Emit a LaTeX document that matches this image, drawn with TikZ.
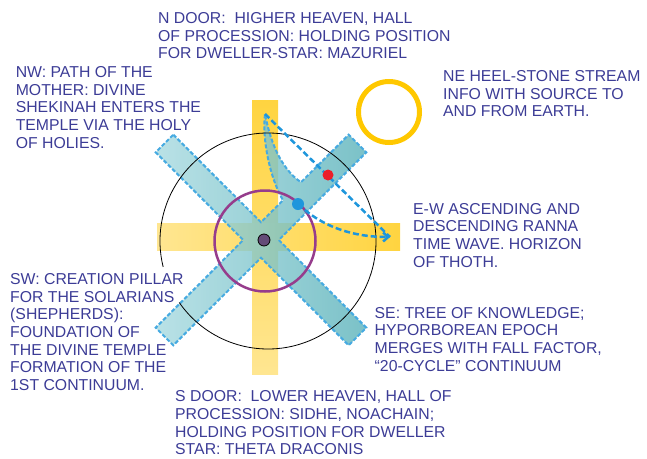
\documentclass[tikz,border=0pt]{standalone}
\usepackage{fontspec}
\setmainfont{Liberation Sans}
\usetikzlibrary{arrows.meta}
\definecolor{textblue}{RGB}{60,60,150}
\definecolor{sunyellow}{RGB}{255,212,64}
\definecolor{paleyellow}{RGB}{255,230,145}
\definecolor{tealL}{RGB}{168,218,224}
\definecolor{tealR}{RGB}{90,178,186}
\definecolor{edgeblue}{RGB}{70,170,225}
\definecolor{flowblue}{RGB}{30,150,220}
\definecolor{dotred}{RGB}{235,30,40}
\definecolor{ringpurple}{RGB}{150,60,140}
\definecolor{corepurple}{RGB}{100,75,120}
\definecolor{ringgold}{RGB}{255,200,0}
\tikzset{
  txt/.style={anchor=base west, align=left, inner sep=0pt, text=textblue,
    font=\fontsize{15.8}{17.7}\selectfont},
  xbar/.style={draw=edgeblue, line width=2pt, dash pattern=on 4pt off 2pt,
    left color=tealL, right color=tealR, fill opacity=0.8},
  flow/.style={draw=flowblue, line width=2.5pt, dash pattern=on 6pt off 3pt},
  spot/.style={circle, inner sep=0pt, minimum size=12pt}
}
\begin{document}
\frenchspacing
\begin{tikzpicture}[x=1pt, y=-1pt]
  \useasboundingbox (0,0) rectangle (647,458);
  % cross of the doors
  \shade[top color=sunyellow, bottom color=paleyellow] (252,100) rectangle (278,374);
  \shade[left color=paleyellow, right color=sunyellow] (157,223) rectangle (400,250);
  % the X, with the horn up to the NE stream
  \coordinate (horn) at (265,114);
  \draw[xbar] (173.3,134.7) -- (261,222.3) -- (283,200.3)
      .. controls (270,178) and (262,140) .. (horn)
      .. controls (270,140) and (280,168) .. (301,182.3)
      -- (348.7,134.7) -- (366.3,152.3) -- (278.7,240) -- (366.3,327.7)
      -- (348.7,345.3) -- (261,257.7) -- (173.3,345.3) -- (155.7,327.7)
      -- (243.3,240) -- (155.7,152.3) -- cycle;
  % rings
  \draw[line width=0.8pt] (268,241) ++(166.1:108) arc[start angle=166.1, end angle=505.3, radius=108];
  \draw[ringpurple, line width=2.5pt] (265,241) circle[radius=50.5];
  \draw[ringgold, line width=5pt] (389,112) circle[radius=30.5];
  % stream
  \coordinate (tip) at (390,237);
  \coordinate (b) at (298,204);
  \draw[flow] (horn) -- (tip);
  \draw[flow, -{Straight Barb[length=5pt, width=9pt]}] (b) .. controls (320,225) and (350,237) .. (tip);
  \node[spot, fill=corepurple, draw=black, line width=0.8pt] (core) at (264,240) {};
  \node[spot, fill=flowblue] (blue) at (b) {};
  \node[spot, minimum size=11pt, fill=dotred] (red) at (328,175) {};
  % texts (placed by the baseline of their last line)
  \node[txt] (ndoor) at (158,58.9) {N DOOR:\ \ HIGHER HEAVEN, HALL\\OF PROCESSION: HOLDING POSITION\\FOR DWELLER-STAR: MAZURIEL};
  \node[txt] (nw) at (15.6,148.2) {NW: PATH OF THE\\MOTHER: DIVINE\\SHEKINAH ENTERS THE\\TEMPLE VIA THE HOLY\\OF HOLIES.};
  \node[txt] (ne) at (443,116.8) {NE HEEL-STONE STREAM\\INFO WITH SOURCE TO\\AND FROM EARTH.};
  \node[txt] (ew) at (413,267.1) {E-W ASCENDING AND\\DESCENDING RANNA\\TIME WAVE. HORIZON\\OF THOTH.};
  \node[txt] (sw) at (10,390.6) {SW: CREATION PILLAR\\FOR THE SOLARIANS\\(SHEPHERDS):\\FOUNDATION OF\\THE DIVINE TEMPLE\\FORMATION OF THE\\1ST CONTINUUM.};
  \node[txt] (se) at (374.5,371.1) {SE: TREE OF KNOWLEDGE;\\HYPORBOREAN EPOCH\\MERGES WITH FALL FACTOR,\\“20-CYCLE” CONTINUUM};
  \node[txt] (sdoor) at (175,454.8) {S DOOR:\ \ LOWER HEAVEN, HALL OF\\PROCESSION: SIDHE, NOACHAIN;\\HOLDING POSITION FOR DWELLER\\STAR: THETA DRACONIS};
\end{tikzpicture}
\end{document}
